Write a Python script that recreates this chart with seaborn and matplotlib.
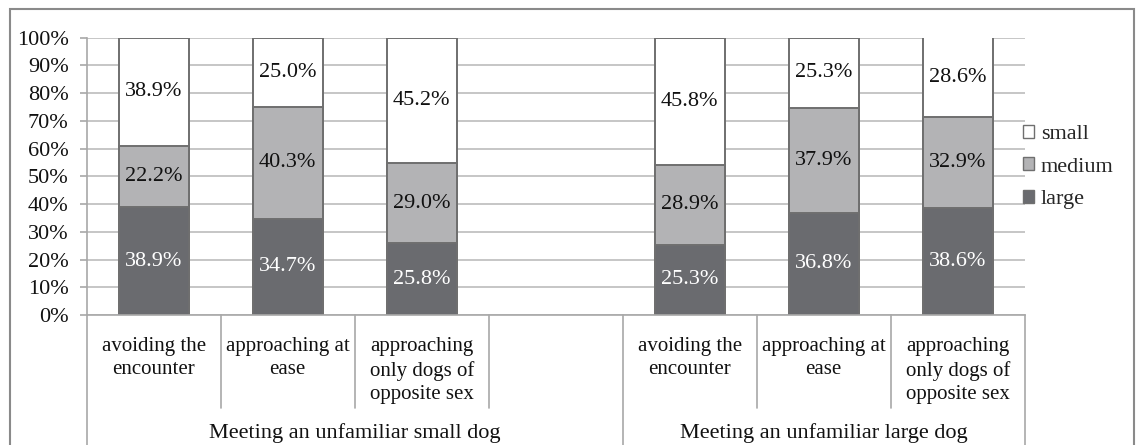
import matplotlib
matplotlib.use("Agg")
import pandas as pd
import matplotlib.pyplot as plt
import matplotlib.transforms as mtrans
import seaborn as sns
from matplotlib.patches import Patch, Rectangle

# data
groups = ["Meeting an unfamiliar small dog", "Meeting an unfamiliar large dog"]
behaviours = ["avoiding the\nencounter", "approaching at\nease",
              "approaching\nonly dogs of\nopposite sex"]
large = [38.9, 34.7, 25.8, 25.3, 36.8, 38.6]
medium = [22.2, 40.3, 29.0, 28.9, 37.9, 32.9]
small = [38.9, 25.0, 45.2, 45.8, 25.3, 28.6]

size_colors = {"small": "#ffffff", "medium": "#b3b3b5", "large": "#6a6b6f"}
edge_col = "#6f6f6f"
grid_col = "#bcbcbc"

sns.set_theme(style="white")
plt.rcParams["font.family"] = ["Liberation Serif", "DejaVu Serif"]

# slots: 3 bars, an empty slot, 3 bars
slots = []
for gi in range(len(groups)):
    for bi in range(len(behaviours)):
        slots.append(f"g{gi}b{bi}")
order = slots[:3] + ["gap"] + slots[3:]

df = pd.DataFrame({"slot": slots, "large": large, "medium": medium, "small": small})
df["lm"] = df["large"] + df["medium"]
df["total"] = df["lm"] + df["small"]

fig = plt.figure(figsize=(11.37, 4.45), dpi=100)
ax = fig.add_axes([86.7 / 1137, 1 - 315 / 445, (1024.7 - 86.7) / 1137, (315 - 37.7) / 445])
ax.set_axisbelow(True)

bar_kw = dict(data=df, x="slot", order=order, width=0.52, saturation=1,
              edgecolor=edge_col, linewidth=1.4, errorbar=None, ax=ax)
sns.barplot(y="total", color=size_colors["small"], **bar_kw)
sns.barplot(y="lm", color=size_colors["medium"], **bar_kw)
sns.barplot(y="large", color=size_colors["large"], **bar_kw)

# segment labels
for _, row in df.iterrows():
    xi = order.index(row["slot"])
    bottom = 0
    for key in ["large", "medium", "small"]:
        v = row[key]
        ax.text(xi, bottom + v / 2, f"{v:.1f}%", ha="center", va="center",
                fontsize=16, color="white" if key == "large" else "#111111")
        bottom += v

ax.set_xlim(-0.5, len(order) - 0.5)
ax.set_ylim(0, 100)
ticks = list(range(0, 101, 10))
ax.set_yticks(ticks)
ax.set_yticklabels([f"{t}%" for t in ticks], fontsize=16, color="#111111")
ax.yaxis.grid(True, color=grid_col, linewidth=1.2)
ax.tick_params(axis="y", length=5, width=1.2, color="#a8a8a8", pad=8, left=True)
ax.set_xticks([])
ax.set_xlabel("")
ax.set_ylabel("")
for s in ["top", "right"]:
    ax.spines[s].set_visible(False)
for s in ["left", "bottom"]:
    ax.spines[s].set_color("#a8a8a8")
    ax.spines[s].set_linewidth(1.2)

# category axis drawn under the plot
tr = mtrans.blended_transform_factory(ax.transData, ax.transAxes)
for gi, g in enumerate(groups):
    for bi, b in enumerate(behaviours):
        xi = order.index(f"g{gi}b{bi}")
        ax.text(xi, -0.08, b, transform=tr, ha="center", va="top",
                fontsize=15, linespacing=1.3, color="#111111")
    first = order.index(f"g{gi}b0")
    last = order.index(f"g{gi}b{len(behaviours) - 1}")
    ax.text((first + last) / 2 + (0.5 if gi == 0 else 0), -0.462, g, transform=tr,
            ha="center", va="bottom", fontsize=16, color="#111111")

short_lines = [0.5, 1.5, 2.5, 4.5, 5.5]
full_lines = [-0.5, 3.5, 6.5]
for x in short_lines:
    ax.plot([x, x], [0, -0.336], transform=tr, color="#a8a8a8", lw=1.2, clip_on=False)
for x in full_lines:
    ax.plot([x, x], [0, -0.6], transform=tr, color="#a8a8a8", lw=1.2, clip_on=False)

# legend
handles = [Patch(facecolor=size_colors[k], edgecolor=edge_col, linewidth=1.0, label=k)
           for k in ["small", "medium", "large"]]
fig.legend(handles=handles, loc="center left", bbox_to_anchor=(1023 / 1137, 1 - 167 / 445),
           frameon=False, fontsize=16, handlelength=0.5, handleheight=0.5,
           handletextpad=0.3, labelspacing=0.6, borderpad=0, borderaxespad=0)

# outer chart border
fig.patches.append(Rectangle((10 / 1137, -0.05), 1124 / 1137, 1.05 - 9 / 445,
                             transform=fig.transFigure, fill=False,
                             edgecolor="#8a8a8a", linewidth=1.5))

fig.savefig("out.png", dpi=100)
